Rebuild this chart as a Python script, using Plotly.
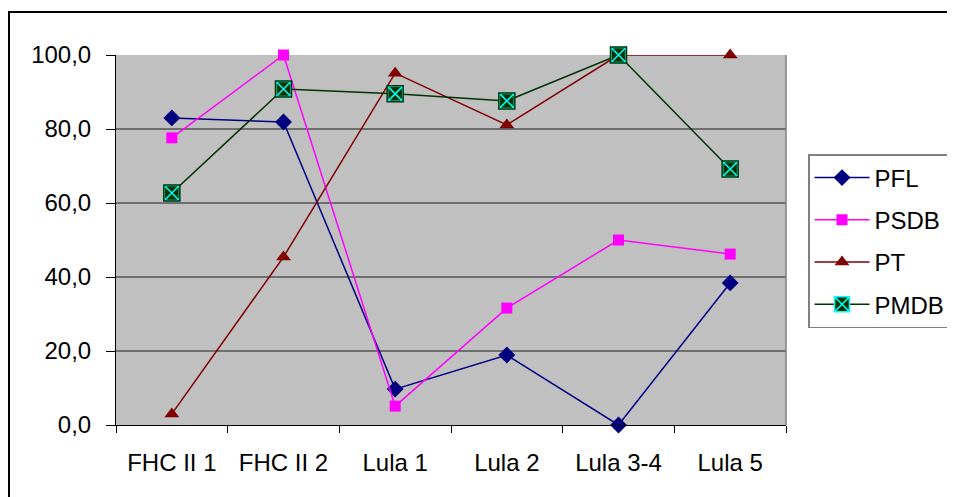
import plotly.graph_objects as go

categories = ["FHC II 1", "FHC II 2", "Lula 1", "Lula 2", "Lula 3-4", "Lula 5"]
pfl = [83.0, 81.9, 9.7, 18.9, 0.0, 38.4]
psdb = [77.6, 100.0, 5.1, 31.6, 50.0, 46.2]
pt = [3.0, 45.4, 95.1, 81.1, 100.0, 100.0]
pmdb = [62.7, 90.8, 89.5, 87.6, 100.0, 69.2]
yticks = [0, 20, 40, 60, 80, 100]

x = list(range(len(categories)))

fig = go.Figure()
fig.add_trace(go.Scatter(x=x, y=pfl, name="PFL", mode="lines+markers", legendgroup="a",
                         cliponaxis=False,
                         line=dict(color="#000080", width=1.5),
                         marker=dict(symbol="diamond", size=13, color="#000080")))
fig.add_trace(go.Scatter(x=x, y=psdb, name="PSDB", mode="lines+markers", legendgroup="b",
                         cliponaxis=False,
                         line=dict(color="#FF00FF", width=1.5),
                         marker=dict(symbol="square", size=11, color="#FF00FF")))
fig.add_trace(go.Scatter(x=x, y=pt, name="PT", mode="lines+markers", legendgroup="c",
                         cliponaxis=False,
                         line=dict(color="#800000", width=1.5),
                         marker=dict(symbol="triangle-up", size=13, color="#800000")))
fig.add_trace(go.Scatter(x=x, y=pmdb, name="PMDB", mode="lines+markers", legendgroup="d",
                         cliponaxis=False,
                         line=dict(color="#003300", width=1.5),
                         marker=dict(symbol="square-x", size=15, color="#003300",
                                     line=dict(color="#00FFFF", width=1.5))))
fig.add_trace(go.Scatter(x=x, y=pmdb, mode="markers", showlegend=False, hoverinfo="skip",
                         cliponaxis=False,
                         marker=dict(symbol="square-open", size=16, color="#003300",
                                     line=dict(color="#003300", width=1.5))))

fig.update_layout(
    width=947, height=489,
    margin=dict(l=108, r=169, t=47, b=72),
    paper_bgcolor="white",
    plot_bgcolor="#C0C0C0",
    separators=",.",
    font=dict(family="Liberation Sans, Arial, sans-serif", size=24, color="black"),
    showlegend=True,
    legend=dict(xref="container", yref="container", x=0.8448, y=0.7014,
                xanchor="left", yanchor="top",
                bgcolor="white", bordercolor="#808080", borderwidth=1.5,
                font=dict(size=24), tracegroupgap=8, itemwidth=55,
                entrywidth=160, entrywidthmode="pixels",
                traceorder="grouped"),
    xaxis=dict(range=[-0.5, 5.5], tickmode="array", tickvals=x, ticktext=categories,
               ticks="", showgrid=False, zeroline=False, ticklabelstandoff=16,
               showline=True, linecolor="black", linewidth=1, mirror=False,
               minor=dict(tickmode="linear", tick0=-0.5, dtick=1, ticks="outside",
                          ticklen=7, tickcolor="black", showgrid=False),
               tickfont=dict(size=24)),
    yaxis=dict(range=[0, 100], tickmode="array", tickvals=yticks, tickformat=".1f",
               ticks="outside", ticklen=9, tickcolor="black", ticklabelstandoff=10,
               showgrid=True, gridcolor="#6E6E6E", gridwidth=1.5, zeroline=False,
               showline=True, linecolor="black", linewidth=1,
               tickfont=dict(size=24)),
    shapes=[
        dict(type="line", xref="paper", yref="paper", x0=1, x1=1, y0=0, y1=1,
             line=dict(color="#808080", width=1.5)),
        dict(type="rect", xref="paper", yref="paper", x0=-0.1597, x1=1.4, y0=-0.4, y1=1.116,
             line=dict(color="black", width=2), layer="above"),
    ],
)

fig.write_html("out.html")
